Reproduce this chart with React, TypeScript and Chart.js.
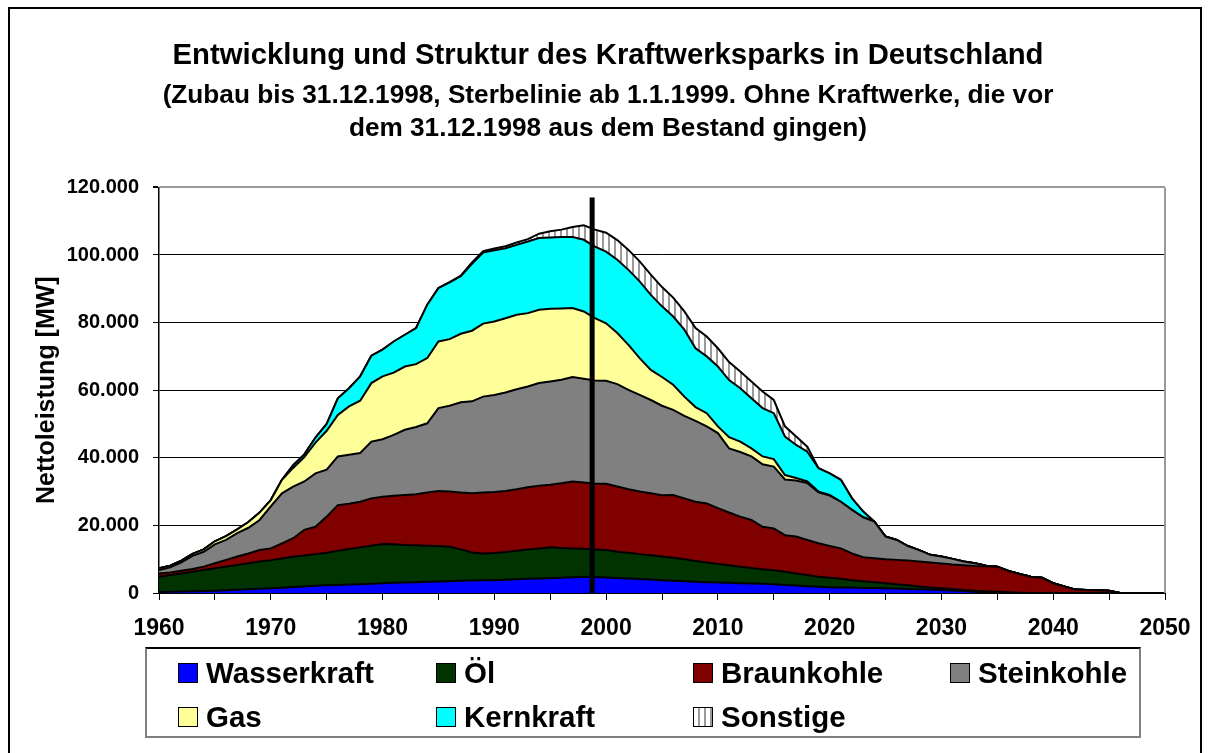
import React, { useEffect, useRef } from 'react';
import { Chart, registerables } from 'chart.js';

Chart.register(...registerables);

const FONT = "'Liberation Sans', Arial, Helvetica, sans-serif";

const titleText = 'Entwicklung und Struktur des Kraftwerksparks in Deutschland';
const subtitleLines = [
  '(Zubau bis 31.12.1998, Sterbelinie ab 1.1.1999. Ohne Kraftwerke, die vor',
  'dem 31.12.1998 aus dem Bestand gingen)',
];
const yAxisTitle = 'Nettoleistung [MW]';

// years 1960 .. 2050
const years = Array.from({ length: 91 }, (_, i) => 1960 + i);

const yTicks = [0, 20000, 40000, 60000, 80000, 100000, 120000];

// Marker line: end of 1998
const markerYear = 1998.75;
const markerTop = 117000;

const wasserkraft = [
  300, 380, 460, 540, 620, 700, 840, 980, 1120, 1260,
  1400, 1580, 1760, 1940, 2120, 2300, 2400, 2500, 2600, 2700,
  2900, 3000, 3100, 3200, 3300, 3400, 3500, 3600, 3700, 3750,
  3800, 3950, 4100, 4200, 4300, 4400, 4500, 4650, 4800, 4700,
  4600, 4450, 4300, 4150, 4000, 3800, 3650, 3500, 3350, 3200,
  3100, 3000, 2900, 2800, 2700, 2600, 2400, 2200, 2000, 1850,
  1700, 1650, 1600, 1500, 1450, 1400, 1300, 1200, 1100, 1000,
  900, 750, 600, 400, 250, 100, 0, 0, 0, 0,
  0, 0, 0, 0, 0, 0, 0, 0, 0, 0,
  0,
];

const oel = [
  4500, 4920, 5340, 5760, 6180, 6600, 6960, 7320, 7680, 8040,
  8300, 8620, 8940, 9160, 9380, 9600, 10100, 10500, 10900, 11300,
  11600, 11400, 11100, 10900, 10700, 10500, 10200, 9300, 8300, 7950,
  8000, 8150, 8400, 8700, 8900, 9100, 8800, 8550, 8300, 8200,
  8100, 7750, 7600, 7350, 7200, 7000, 6750, 6500, 6150, 5800,
  5500, 5200, 4900, 4600, 4300, 4100, 3900, 3600, 3300, 2950,
  2800, 2550, 2200, 2000, 1750, 1500, 1300, 1100, 800, 650,
  500, 400, 300, 300, 250, 250, 200, 100, 0, 0,
  0, 0, 0, 0, 0, 0, 0, 0, 0, 0,
  0,
];

const braunkohle = [
  1000, 800, 800, 800, 1000, 1500, 2000, 2500, 2900, 3400,
  3500, 4500, 5500, 7600, 8100, 10700, 13500, 13400, 13500, 14000,
  14000, 14400, 14800, 15100, 15700, 16300, 16300, 16800, 17500, 18000,
  18100, 18100, 18200, 18400, 18500, 18500, 19200, 19800, 19600, 19400,
  19600, 19300, 18800, 18500, 18300, 18100, 18600, 18000, 17500, 17500,
  16500, 15600, 14800, 14200, 12600, 12400, 10800, 10900, 10400, 9900,
  9400, 9000, 7900, 7100, 7100, 7100, 7200, 7300, 7400, 7350,
  7300, 7250, 7300, 7300, 7400, 7450, 6300, 5500, 4800, 4500,
  2900, 1900, 1000, 900, 800, 700, 0, 0, 0, 0,
  0,
];

const steinkohle = [
  1000, 1500, 2500, 3900, 4400, 5600, 5900, 6900, 7600, 8900,
  12400, 14800, 15300, 14300, 15800, 13900, 14400, 14500, 14400, 16800,
  17000, 18000, 19300, 19900, 20500, 24500, 25400, 26700, 27200, 28400,
  28700, 29100, 29600, 29800, 30400, 30600, 30600, 30900, 30700, 30600,
  30500, 30300, 29400, 28600, 27600, 26500, 25200, 24400, 23900, 22800,
  22200, 19000, 19100, 18800, 18500, 18300, 16500, 16600, 16800, 15100,
  14900, 13800, 12900, 11800, 10800, 6700, 5900, 4300, 3400, 2300,
  2100, 1700, 1100, 800, 200, 0, 0, 0, 0, 0,
  0, 0, 0, 0, 0, 0, 0, 0, 0, 0,
  0,
];

const gas = [
  500, 500, 500, 600, 700, 900, 1100, 1100, 1700, 2200,
  1900, 4000, 5500, 7200, 9100, 11500, 12300, 14300, 15500, 17300,
  18600, 18400, 18700, 18600, 19300, 19700, 19700, 20300, 20900, 21600,
  21700, 22000, 22000, 21700, 21700, 21500, 21100, 20400, 19900, 18400,
  17000, 15100, 13300, 10900, 8900, 8500, 7400, 5700, 4100, 3900,
  2000, 3300, 3100, 2400, 2300, 2200, 1300, 700, 500, 200,
  200, 0, 0, 0, 0, 0, 0, 0, 0, 0,
  0, 0, 0, 0, 0, 0, 0, 0, 0, 0,
  0, 0, 0, 0, 0, 0, 0, 0, 0, 0,
  0,
];

const kernkraft = [
  0, 0, 0, 0, 0, 0, 0, 0, 0, 0,
  0, 0, 800, 800, 1500, 2000, 4900, 5400, 7200, 8100,
  7900, 9200, 9400, 10700, 15800, 15800, 16800, 17000, 19800, 21000,
  21100, 20700, 20700, 21200, 21200, 21100, 21100, 21000, 21200, 21200,
  21200, 21700, 22200, 22700, 22200, 20900, 20200, 19800, 17400, 16800,
  17700, 16900, 15800, 14800, 14300, 13600, 11400, 9800, 8800, 6900,
  6400, 6500, 3400, 1700, 0, 0, 0, 0, 0, 0,
  0, 0, 0, 0, 0, 0, 0, 0, 0, 0,
  0, 0, 0, 0, 0, 0, 0, 0, 0, 0,
  0,
];

const sonstige = [
  0, 0, 0, 0, 0, 0, 0, 0, 0, 0,
  0, 0, 0, 0, 0, 0, 0, 0, 0, 0,
  0, 0, 0, 0, 0, 0, 100, 200, 400, 400,
  500, 600, 700, 700, 1300, 1800, 2200, 3000, 4300, 5000,
  5600, 5800, 5900, 5900, 6000, 5700, 5600, 5400, 6000, 5900,
  5400, 5300, 4900, 5000, 4900, 3900, 3000, 2500, 1500, 0,
  0, 0, 0, 0, 0, 0, 0, 0, 0, 0,
  0, 0, 0, 0, 0, 0, 0, 0, 0, 0,
  0, 0, 0, 0, 0, 0, 0, 0, 0, 0,
  0,
];

const seriesLabels = ['Wasserkraft', 'Öl', 'Braunkohle', 'Steinkohle', 'Gas', 'Kernkraft', 'Sonstige'];
const seriesValues = [wasserkraft, oel, braunkohle, steinkohle, gas, kernkraft, sonstige];
const seriesColors = ['#0000ff', '#003300', '#800000', '#808080', '#ffff99', '#00ffff', 'hatch'];

function fmt(v: number): string {
  return String(v).replace(/\B(?=(\d{3})+(?!\d))/g, '.');
}

export default function App() {
  const ref = useRef<HTMLCanvasElement>(null);

  useEffect(() => {
    const canvas = ref.current;
    if (!canvas) return;
    const ctx = canvas.getContext('2d');
    if (!ctx) return;

    const pc = document.createElement('canvas');
    pc.width = 6;
    pc.height = 6;
    const pctx = pc.getContext('2d')!;
    pctx.fillStyle = '#ffffff';
    pctx.fillRect(0, 0, 6, 6);
    pctx.fillStyle = '#9a9a9a';
    pctx.fillRect(2, 0, 2, 6);
    const hatch = ctx.createPattern(pc, 'repeat');

    const datasets = seriesLabels.map((label, i) => ({
      label,
      data: seriesValues[i].map((v, j) => ({ x: years[j], y: v })),
      backgroundColor: seriesColors[i] === 'hatch' ? hatch : seriesColors[i],
      borderColor: '#000000',
      borderWidth: 2,
      fill: i === 0 ? 'origin' : '-1',
      pointRadius: 0,
      pointHoverRadius: 0,
      tension: 0,
    }));

    const framePlugin = {
      id: 'frameAndMarker',
      afterDatasetsDraw(chart: any) {
        const { ctx: c, chartArea, scales } = chart;
        const xs = scales.x;
        const ys = scales.y;
        c.save();
        c.strokeStyle = '#9a9a9a';
        c.lineWidth = 2;
        c.beginPath();
        c.moveTo(chartArea.right, chartArea.top);
        c.lineTo(chartArea.right, chartArea.bottom);
        c.stroke();
        const px = xs.getPixelForValue(markerYear);
        c.strokeStyle = '#000000';
        c.lineWidth = 5;
        c.beginPath();
        c.moveTo(px, ys.getPixelForValue(markerTop));
        c.lineTo(px, ys.getPixelForValue(0));
        c.stroke();
        c.restore();
      },
    };

    const chart = new Chart(ctx, {
      type: 'line',
      data: { datasets: datasets as any },
      plugins: [framePlugin],
      options: {
        animation: false,
        responsive: false,
        devicePixelRatio: 1,
        events: [],
        layout: { padding: { left: 51, right: 43, top: 0, bottom: 110 } },
        plugins: {
          legend: { display: false },
          tooltip: { enabled: false },
          title: {
            display: true,
            text: titleText,
            color: '#000',
            font: { family: FONT, size: 29.3, weight: 'bold', lineHeight: 1.2 },
            padding: { top: 38, bottom: 3 },
          },
          subtitle: {
            display: true,
            text: subtitleLines,
            color: '#000',
            font: { family: FONT, size: 26.2, weight: 'bold', lineHeight: 1.26 },
            padding: { top: 3, bottom: 42.2 },
          },
        },
        scales: {
          x: {
            type: 'linear',
            min: 1960,
            max: 2050,
            border: { display: true, color: '#000', width: 2 },
            grid: { display: true, drawOnChartArea: false, drawTicks: true, tickLength: 7, tickColor: '#000', tickWidth: 1 },
            ticks: {
              stepSize: 5,
              autoSkip: false,
              maxRotation: 0,
              padding: 15,
              color: '#000',
              font: { family: FONT, size: 23, weight: 'bold' },
              callback: (v: any) => (Number(v) % 10 === 0 ? String(v) : ''),
            },
            afterFit: (scale: any) => {
              scale.height = 50;
            },
          },
          y: {
            type: 'linear',
            stacked: true,
            min: 0,
            max: 120000,
            border: { display: true, color: '#000', width: 1.5 },
            grid: {
              display: true,
              drawOnChartArea: true,
              drawTicks: true,
              tickLength: 6,
              tickColor: '#000',
              color: (c: any) => (c.tick && c.tick.value === 120000 ? '#9a9a9a' : '#000'),
              lineWidth: (c: any) => (c.tick && c.tick.value === 120000 ? 2 : 1),
            },
            afterBuildTicks: (scale: any) => {
              scale.ticks = yTicks.map((v) => ({ value: v }));
            },
            ticks: {
              padding: 14,
              color: '#000',
              font: { family: FONT, size: 20, weight: 'bold' },
              callback: (v: any) => fmt(Number(v)),
            },
            title: {
              display: true,
              text: yAxisTitle,
              color: '#000',
              font: { family: FONT, size: 25, weight: 'bold', lineHeight: 1.2 },
              padding: { top: -19, bottom: 0 },
            },
            afterFit: (scale: any) => {
              scale.width = 108;
            },
          },
        },
      } as any,
    });

    return () => {
      chart.destroy();
    };
  }, []);

  const colLeft = [178, 436, 693, 950];
  const rowCenter = [673, 717];

  return (
    <div>
      <div
        style={{
          position: 'absolute',
          left: 8,
          top: 7,
          width: 1190,
          height: 744,
          borderTop: '2px solid #000',
          borderLeft: '2px solid #000',
          borderRight: '2px solid #000',
        }}
      />
      <canvas
        ref={ref}
        width={1208}
        height={753}
        style={{ position: 'absolute', left: 0, top: 0, width: 1208, height: 753 }}
      />
      <div
        style={{
          position: 'absolute',
          left: 145,
          top: 647,
          width: 992,
          height: 87,
          borderTop: '2px solid #000',
          borderLeft: '2px solid #808080',
          borderRight: '2px solid #808080',
          borderBottom: '2px solid #808080',
        }}
      />
      {seriesLabels.map((label, i) => {
        const col = i % 4;
        const row = Math.floor(i / 4);
        const color = seriesColors[i];
        const swatchBg =
          color === 'hatch'
            ? 'repeating-linear-gradient(90deg, #ffffff 0px, #ffffff 4px, #9a9a9a 4px, #9a9a9a 6px)'
            : color;
        return (
          <div
            key={label}
            style={{
              position: 'absolute',
              left: colLeft[col],
              top: rowCenter[row] - 17,
              height: 34,
              display: 'flex',
              alignItems: 'center',
              whiteSpace: 'nowrap',
            }}
          >
            <div
              style={{
                width: 18,
                height: 18,
                border: '1px solid #000',
                background: swatchBg,
                marginRight: 8,
              }}
            />
            <span
              style={{
                fontFamily: FONT,
                fontWeight: 'bold',
                fontSize: 29.5,
                lineHeight: '34px',
                color: '#000',
              }}
            >
              {label}
            </span>
          </div>
        );
      })}
    </div>
  );
}
